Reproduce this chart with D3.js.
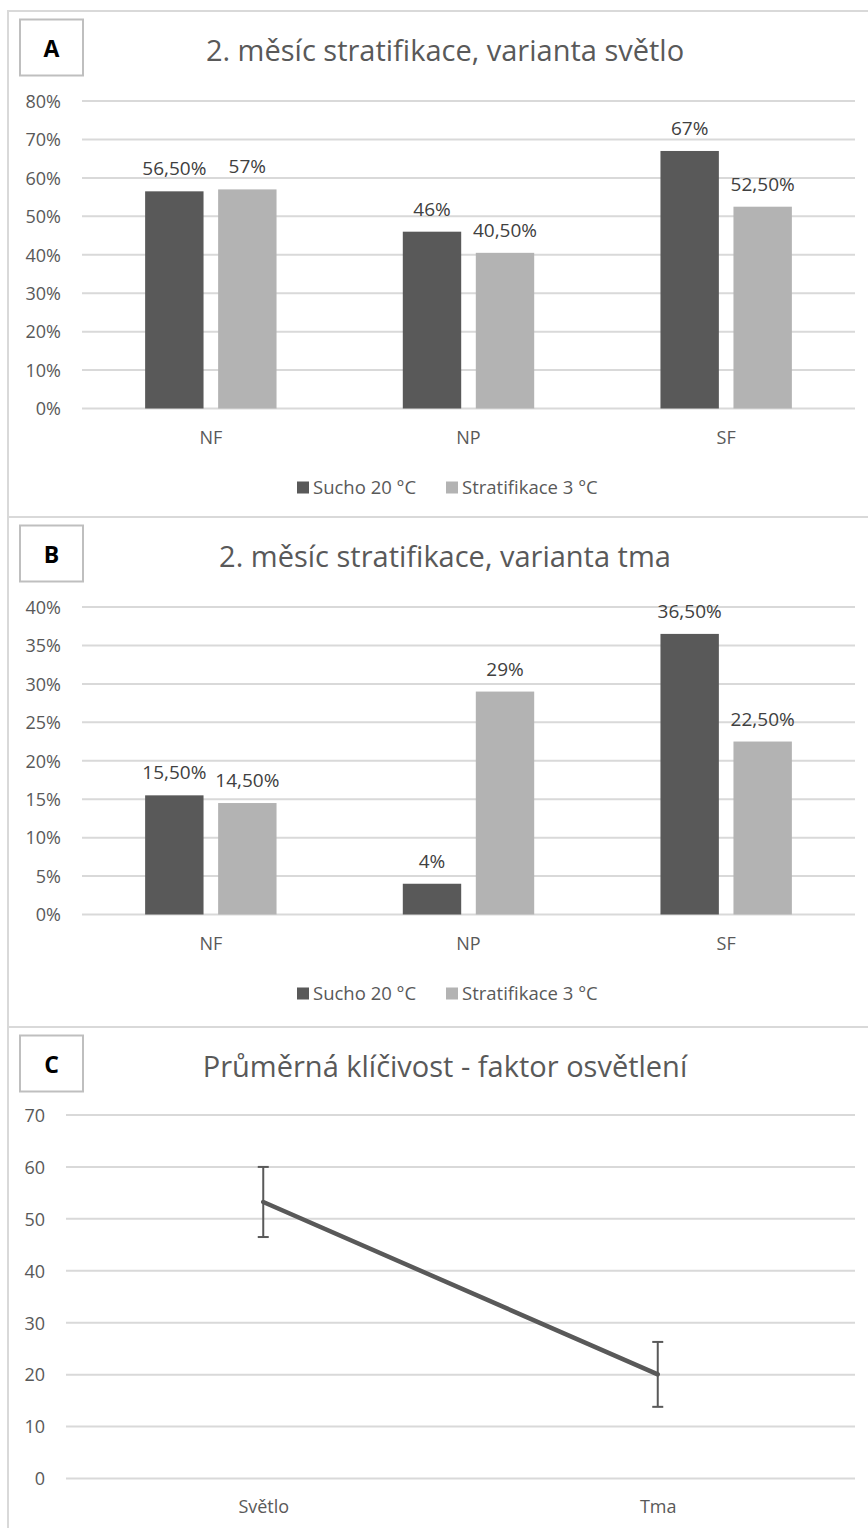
<!DOCTYPE html>
<html>
<head>
<meta charset="utf-8">
<script src="https://cdn.jsdelivr.net/npm/d3@7/dist/d3.min.js"></script>
<style>
  html, body { margin: 0; padding: 0; background: #fff; }
  svg { display: block; }
  text { font-family: "Open Sans", "Noto Sans", sans-serif; }
</style>
</head>
<body>
<svg id="chart" width="868" height="1528"></svg>
<script>
// ---------- data ----------
const barCategories = ["NF", "NP", "SF"];
const seriesNames = ["Sucho 20 °C", "Stratifikace 3 °C"];
const seriesColors = ["#595959", "#b3b3b3"];

const titleA = "2. měsíc stratifikace, varianta světlo";
const suchoA = [56.5, 46, 67];
const stratA = [57, 40.5, 52.5];
const ticksA = [0, 10, 20, 30, 40, 50, 60, 70, 80];

const titleB = "2. měsíc stratifikace, varianta tma";
const suchoB = [15.5, 4, 36.5];
const stratB = [14.5, 29, 22.5];
const ticksB = [0, 5, 10, 15, 20, 25, 30, 35, 40];

const titleC = "Průměrná klíčivost - faktor osvětlení";
const lineCategories = ["Světlo", "Tma"];
const lineMeans = [53.25, 20.05];
const lineErrors = [6.75, 6.25];
const ticksC = [0, 10, 20, 30, 40, 50, 60, 70];

const panelLetters = ["A", "B", "C"];

// ---------- helpers ----------
const svg = d3.select("#chart");
const GRID = "#d9d9d9";
const TXT = "#595959";

const fmtPct = v => Number.isInteger(v) ? v + "%" : v.toFixed(2).replace(".", ",") + "%";

function panelFrame(top, bottom, letter, title) {
  svg.append("rect")
    .attr("x", 8).attr("y", top).attr("width", 880).attr("height", bottom - top)
    .attr("fill", "#fff").attr("stroke", GRID).attr("stroke-width", 2);
  svg.append("rect")
    .attr("x", 20).attr("y", top + 8.5).attr("width", 63).attr("height", 56)
    .attr("fill", "#fff").attr("stroke", "#bfbfbf").attr("stroke-width", 2);
  svg.append("text")
    .attr("x", 51.5).attr("y", top + 36.5)
    .attr("text-anchor", "middle").attr("dominant-baseline", "central")
    .attr("font-size", 23).attr("font-weight", 700).attr("fill", "#000")
    .text(letter);
  svg.append("text")
    .attr("x", 445).attr("y", top + 50)
    .attr("text-anchor", "middle")
    .attr("font-size", 29).attr("fill", TXT)
    .text(title);
}

function barPanel(top, bottom, letter, title, sucho, strat, ticks) {
  panelFrame(top, bottom, letter, title);
  const y = d3.scaleLinear().domain([0, d3.max(ticks)]).range([top + 397.5, top + 90]);
  const x0 = d3.scaleBand().domain(barCategories).range([82, 855])
    .paddingInner(0.49).paddingOuter(0.245);
  const x1 = d3.scaleBand().domain(seriesNames).range([0, x0.bandwidth()]).paddingInner(0.2);
  const g = svg.append("g");

  const yAxis = d3.axisLeft(y).tickValues(ticks).tickSize(0).tickPadding(0).tickFormat(d => d + "%");
  const ga = g.append("g").attr("transform", "translate(61,0)").call(yAxis);
  ga.select(".domain").remove();
  ga.selectAll("text").attr("font-size", 18).attr("fill", TXT).attr("dy", "0.35em")
    .attr("font-family", "'Open Sans', sans-serif");
  g.selectAll("line.grid").data(ticks).enter().append("line")
    .attr("class", "grid")
    .attr("x1", 82).attr("x2", 855)
    .attr("y1", d => y(d)).attr("y2", d => y(d))
    .attr("stroke", GRID).attr("stroke-width", 2);

  const rows = barCategories.map((c, i) => ({ cat: c, vals: [sucho[i], strat[i]] }));
  const grp = g.selectAll("g.cat").data(rows).enter().append("g")
    .attr("transform", d => `translate(${x0(d.cat)},0)`);
  const cells = grp.selectAll("g.cell").data(d => d.vals.map((v, k) => ({ s: seriesNames[k], k, v })))
    .enter().append("g");
  cells.append("rect")
    .attr("x", d => x1(d.s)).attr("width", x1.bandwidth())
    .attr("y", d => y(d.v)).attr("height", d => y(0) - y(d.v))
    .attr("fill", d => seriesColors[d.k]);
  cells.append("text")
    .attr("x", d => x1(d.s) + x1.bandwidth() / 2)
    .attr("y", d => y(d.v) - 16)
    .attr("text-anchor", "middle").attr("font-size", 19).attr("fill", "#404040")
    .text(d => fmtPct(d.v));

  const xAxis = d3.axisBottom(x0).tickSize(0).tickPadding(0);
  const gx = g.append("g").attr("transform", `translate(0,${y(0) + 29})`).call(xAxis);
  gx.select(".domain").remove();
  gx.selectAll("text").attr("font-size", 18).attr("fill", TXT).attr("dy", "0.35em")
    .attr("font-family", "'Open Sans', sans-serif");

  const ly = y(0) + 79;
  const legendX = [297, 446];
  seriesNames.forEach((s, k) => {
    g.append("rect").attr("x", legendX[k]).attr("y", ly - 6).attr("width", 12).attr("height", 12)
      .attr("fill", seriesColors[k]);
    g.append("text").attr("x", legendX[k] + 16).attr("y", ly).attr("dy", "0.35em")
      .attr("font-size", 18.5).attr("fill", TXT).text(s);
  });
}

function linePanel(top, bottom, letter, title) {
  panelFrame(top, bottom, letter, title);
  const y = d3.scaleLinear().domain([0, d3.max(ticksC)]).range([top + 451.5, top + 88]);
  const x = d3.scalePoint().domain(lineCategories).range([66, 855]).padding(0.5);
  const g = svg.append("g");
  const yAxis = d3.axisLeft(y).tickValues(ticksC).tickSize(0).tickPadding(0);
  const ga = g.append("g").attr("transform", "translate(45,0)").call(yAxis);
  ga.select(".domain").remove();
  ga.selectAll("text").attr("font-size", 18).attr("fill", TXT).attr("dy", "0.35em")
    .attr("font-family", "'Open Sans', sans-serif");
  g.selectAll("line.grid").data(ticksC).enter().append("line")
    .attr("x1", 66).attr("x2", 855)
    .attr("y1", d => y(d)).attr("y2", d => y(d))
    .attr("stroke", GRID).attr("stroke-width", 2);

  const xAxis = d3.axisBottom(x).tickSize(0).tickPadding(0);
  const gx = g.append("g").attr("transform", `translate(0,${y(0) + 28})`).call(xAxis);
  gx.select(".domain").remove();
  gx.selectAll("text").attr("font-size", 18).attr("fill", TXT).attr("dy", "0.35em")
    .attr("font-family", "'Open Sans', sans-serif");

  const pts = lineCategories.map((c, i) => ({ c, m: lineMeans[i], e: lineErrors[i] }));
  g.append("path").datum(pts)
    .attr("d", d3.line().x(d => x(d.c)).y(d => y(d.m)))
    .attr("fill", "none").attr("stroke", "#595959").attr("stroke-width", 4.5)
    .attr("stroke-linecap", "round");
  const eb = g.selectAll("g.eb").data(pts).enter().append("g");
  eb.append("line").attr("x1", d => x(d.c)).attr("x2", d => x(d.c))
    .attr("y1", d => y(d.m - d.e)).attr("y2", d => y(d.m + d.e))
    .attr("stroke", "#595959").attr("stroke-width", 2);
  [-1, 1].forEach(s => {
    eb.append("line").attr("x1", d => x(d.c) - 5.5).attr("x2", d => x(d.c) + 5.5)
      .attr("y1", d => y(d.m + s * d.e)).attr("y2", d => y(d.m + s * d.e))
      .attr("stroke", "#595959").attr("stroke-width", 2);
  });
}

barPanel(11, 517, panelLetters[0], titleA, suchoA, stratA, ticksA);
barPanel(517, 1027, panelLetters[1], titleB, suchoB, stratB, ticksB);
linePanel(1027, 1540, panelLetters[2], titleC);
</script>
</body>
</html>
